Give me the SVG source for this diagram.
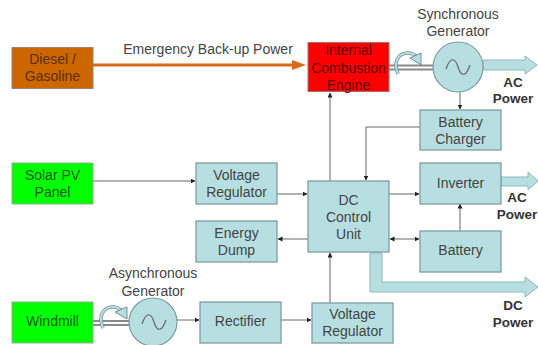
<svg xmlns="http://www.w3.org/2000/svg" width="538" height="345" viewBox="0 0 538 345">
<style>
text{font-family:"Liberation Sans",Arial,sans-serif;font-size:14px;fill:#444;text-anchor:middle}
.b{fill:#b7dfe2;stroke:#7f9da1;stroke-width:1.3}
.g{fill:#00ff00;stroke:#8fb08f;stroke-width:1}
.w{fill:#b7dfe2;stroke:#7f9da1;stroke-width:1.2}
.l{fill:none;stroke:#666;stroke-width:1}
.p{fill:#b7dfe2;stroke:#8fb6ba;stroke-width:1}
.s{fill:none;stroke:#666;stroke-width:1.2}
.bold{font-weight:bold;font-size:13.500px;fill:#333}
.gt{fill:#1c5c1c}
.dt{fill:#5a3000}
.rt{fill:#600000}
.ro{fill:none;stroke:#6f8f94;stroke-width:3.500}
.ri{fill:none;stroke:#b7dfe2;stroke-width:2}
.rh{fill:#b7dfe2;stroke:#6f8f94;stroke-width:1}
.sh{fill:none;stroke:#8a8a8a;stroke-width:2}
</style>
<defs>
<marker id="a" markerWidth="6" markerHeight="6" refX="4.500" refY="2.500" orient="auto-start-reverse" markerUnits="userSpaceOnUse"><path d="M0 0L5 2.500L0 5Z" fill="#222"/></marker>
</defs>
<g id="connectors">
<path d="M93 65H297" stroke="#d9691a" stroke-width="3" fill="none"/>
<path d="M292 60L306 65L292 70Z" fill="#d9691a"/>
<path class="l" d="M93 181H195" marker-end="url(#a)"/>
<path class="l" d="M277 194H307" marker-end="url(#a)"/>
<path class="l" d="M308 239H278" marker-end="url(#a)"/>
<path class="l" d="M330 181V93" marker-end="url(#a)"/>
<path class="l" d="M420 127H366V180" marker-end="url(#a)"/>
<path class="l" d="M460 92V109" marker-end="url(#a)"/>
<path class="l" d="M389 194H419" marker-end="url(#a)"/>
<path class="l" d="M390 239H419" marker-start="url(#a)" marker-end="url(#a)"/>
<path class="l" d="M460 231V204" marker-end="url(#a)"/>
<path class="l" d="M330 303V253" marker-end="url(#a)"/>
<path class="l" d="M177 320H199" marker-end="url(#a)"/>
<path class="l" d="M281 320H311" marker-end="url(#a)"/>
<path class="p" d="M483 60H525V56L537 65L525 74V70H483Z"/>
<path class="p" d="M501 177H528V172L538 181L528 190V186H501Z"/>
<path class="p" d="M370 253H382V282H525V277L538 287L525 297V292H370Z"/>
<path class="sh" d="M389 65.500H433M389 69.500H433"/>
<path class="sh" d="M93 321H130M93 325H130"/>
</g>
<g id="diesel"><rect x="12" y="47.500" width="81" height="41" fill="#cc6600" stroke="#a08070"/><text class="dt" x="52.500" y="64">Diesel /</text><text class="dt" x="52.500" y="81">Gasoline</text></g>
<g id="solar"><rect class="g" x="12" y="163" width="81" height="41"/><text class="gt" x="52.500" y="180">Solar PV</text><text class="gt" x="52.500" y="197">Panel</text></g>
<g id="windmill"><rect class="g" x="12" y="302" width="81" height="41"/><text class="gt" x="52.500" y="326">Windmill</text></g>
<g id="vr1"><rect class="b" x="196" y="163" width="81" height="41"/><text x="236.500" y="180">Voltage</text><text x="236.500" y="197">Regulator</text></g>
<g id="dump"><rect class="b" x="196" y="221" width="81" height="41"/><text x="236.500" y="238">Energy</text><text x="236.500" y="255">Dump</text></g>
<g id="rectifier"><rect class="b" x="200" y="302" width="81" height="41"/><text x="240.500" y="326">Rectifier</text></g>
<g id="vr2"><rect class="b" x="312" y="303" width="81" height="40"/><text x="352.500" y="319">Voltage</text><text x="352.500" y="336">Regulator</text></g>
<g id="dc"><rect class="b" x="308" y="181" width="81" height="71"/><text x="348.500" y="205">DC</text><text x="348.500" y="222">Control</text><text x="348.500" y="239">Unit</text></g>
<g id="engine"><rect x="308" y="42.500" width="81" height="49" fill="#ff0000" stroke="#a07070"/><text class="rt" x="348.500" y="55">Internal</text><text class="rt" x="348.500" y="73">Combustion</text><text class="rt" x="348.500" y="90">Engine</text></g>
<g id="charger"><rect class="b" x="420" y="110" width="81" height="40"/><text x="460.500" y="127">Battery</text><text x="460.500" y="144">Charger</text></g>
<g id="inverter"><rect class="b" x="420" y="163" width="81" height="41"/><text x="460.500" y="188">Inverter</text></g>
<g id="battery"><rect class="b" x="420" y="231" width="81" height="41"/><text x="460.500" y="255">Battery</text></g>
<g id="syncgen"><circle class="w" cx="458" cy="67" r="25"/><path class="s" d="M446 69C450 57 455 57 458 67C461 77 466 77 470 65"/><text x="458" y="19">Synchronous</text><text x="458" y="36">Generator</text><path class="ro" d="M398 74C393 62 398 53 408 53C412 53 415 55 417 57"/><path class="ri" d="M398 74C393 62 398 53 408 53C412 53 415 55 417 57"/><path class="rh" d="M410 58L421 53V65Z"/></g>
<g id="asyncgen"><circle class="w" cx="153" cy="322" r="24"/><path class="s" d="M142 324C146 312 151 312 154 322C157 332 162 332 166 320"/><text x="153" y="278">Asynchronous</text><text x="153" y="296">Generator</text><path class="ro" d="M103 328C98 316 103 307 113 307C117 307 120 309 122 311"/><path class="ri" d="M103 328C98 316 103 307 113 307C117 307 120 309 122 311"/><path class="rh" d="M115 312L127 307V319Z"/></g>
<g id="labels"><text x="208" y="54">Emergency Back-up Power</text>
<text class="bold" x="513" y="87">AC</text><text class="bold" x="513" y="103">Power</text>
<text class="bold" x="517" y="202">AC</text><text class="bold" x="517" y="219">Power</text>
<text class="bold" x="513" y="310">DC</text><text class="bold" x="513" y="327">Power</text></g>
</svg>
